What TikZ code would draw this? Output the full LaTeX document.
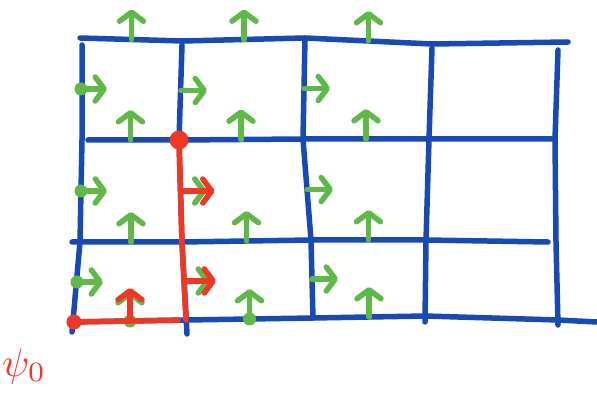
\documentclass[tikz,border=0pt]{standalone}
\usetikzlibrary{arrows.meta,calc}
\definecolor{gridblue}{RGB}{24,74,180}
\definecolor{fluxgreen}{RGB}{96,184,72}
\definecolor{pathred}{RGB}{236,56,36}
\tikzset{
  lattice/.style={gridblue,line width=5.5pt,line cap=round,line join=round},
  flux/.style={fluxgreen,line width=5.5pt,line cap=round,
    -{Straight Barb[length=9pt,width=24pt,round]}},
  redflux/.style={flux,pathred},
  redpath/.style={pathred,line width=5.5pt,line cap=round,line join=round},
}
\begin{document}
\begin{tikzpicture}[x=1pt,y=-1pt]
\useasboundingbox (0,0) rectangle (597,395);
% lattice vertices
\coordinate (v00) at (80,38);  \coordinate (v01) at (183,41);
\coordinate (v02) at (305,38); \coordinate (v03) at (432,44);
\coordinate (v04) at (560,46);
\coordinate (v10) at (82,140); \coordinate (v11) at (179,140);
\coordinate (v12) at (303,139); \coordinate (v13) at (429,139);
\coordinate (v14) at (555,139);
\coordinate (v20) at (80,242); \coordinate (v21) at (182,242);
\coordinate (v22) at (311,240); \coordinate (v23) at (426,240);
\coordinate (v24) at (556,242);
\coordinate (v30) at (74,322); \coordinate (v31) at (186,320);
\coordinate (v32) at (313,318); \coordinate (v33) at (425,316);
\coordinate (v34) at (558,320);
% free ends
\coordinate (r0e) at (568,42);  \coordinate (r1w) at (88,140);
\coordinate (r1e) at (552,139); \coordinate (r2w) at (72,242);
\coordinate (r2e) at (548,242); \coordinate (r3w) at (70,322);
\coordinate (r3e) at (597,322);
\coordinate (c0n) at (82,45);   \coordinate (c0s) at (72,332);
\coordinate (c1n) at (182,45);  \coordinate (c1s) at (187,334);
\coordinate (c3n) at (432,48);  \coordinate (c3s) at (425,322);
\coordinate (c4n) at (558,50);  \coordinate (c4s) at (558,325);
% rows
\draw[lattice] (v00) -- (v01) -- (v02) -- (v03) -- (r0e);
\draw[lattice] (r1w) -- (v11) -- (v12) -- (v13) -- (r1e);
\draw[lattice] (r2w) -- (v21) -- (v22) -- (v23) -- (r2e);
\draw[lattice] (r3w) -- (v31) -- (v32) -- (v33) -- (v34) -- (r3e);
% columns
\draw[lattice] (c0n) -- (v10) -- (v20) -- (c0s);
\draw[lattice] (c1n) -- (v11) -- (v21) -- (c1s);
\draw[lattice] (v02) -- (v12) -- (v22) -- (v32);
\draw[lattice] (c3n) -- (v13) -- (v23) -- (c3s);
\draw[lattice] (c4n) -- (v14) -- (v24) -- (c4s);
% green arrows
\foreach \r in {0,...,3}
  \foreach \c/\d in {0/1,1/2,2/3}
    \draw[flux] ($(v\r\c)!0.5!(v\r\d)$) -- ++(0,-30);
\foreach \c in {0,1,2}
  \foreach \r/\s in {0/1,1/2,2/3}
    \draw[flux] ($(v\r\c)!0.5!(v\s\c)$) -- ++(26,0);
\foreach \r/\s in {0/1,1/2,2/3}
  \fill[fluxgreen] ($(v\r0)!0.5!(v\s0)$) circle (6.5pt);
\foreach \c/\d in {0/1,1/2}
  \fill[fluxgreen] ($(v3\c)!0.5!(v3\d)$) circle (6.5pt);
% red path
\draw[redpath] (v11) -- (v21) -- (v31);
\draw[redpath] (v30) -- ($(v30)!0.93!(v31)$);
\fill[pathred] (v11) circle (9.5pt);
\fill[pathred] (v30) circle (7.5pt);
\draw[redflux] ($(v30)!0.5!(v31)$) -- ++(0,-33);
\draw[redflux] ($(v11)!0.5!(v21)$) -- ++(34,0);
\draw[redflux] ($(v21)!0.5!(v31)$) -- ++(32,0);
\node[pathred,scale=4] (psi) at (24,366) {$\psi_{0}$};
\end{tikzpicture}
\end{document}
